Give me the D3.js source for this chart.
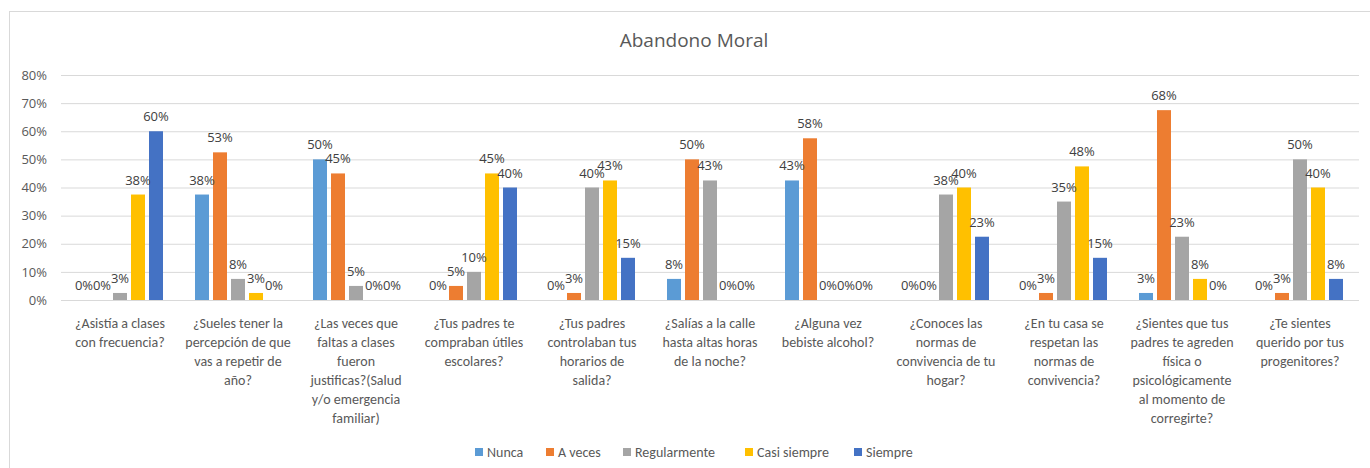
<!DOCTYPE html>
<html>
<head>
<meta charset="utf-8">
<script src="https://cdn.jsdelivr.net/npm/d3@7.9.0/dist/d3.min.js"></script>
<style>
  body { margin: 0; background: #fff; }
  svg { display: block; }
  .narrow { font-family: Carlito, 'Liberation Sans Narrow', 'Open Sans', sans-serif; }
  .seg { font-family: 'Open Sans', 'Noto Sans', sans-serif; }
</style>
</head>
<body>
<svg id="chart" width="1370" height="468"></svg>
<script>
// categories (line breaks as in the original chart)
const categories = [
  "¿Asistía a clases\ncon frecuencia?",
  "¿Sueles tener la\npercepción de que\nvas a repetir de\naño?",
  "¿Las veces que\nfaltas a clases\nfueron\njustificas?(Salud\ny/o emergencia\nfamiliar)",
  "¿Tus padres te\ncompraban útiles\nescolares?",
  "¿Tus padres\ncontrolaban tus\nhorarios de\nsalida?",
  "¿Salías a la calle\nhasta altas horas\nde la noche?",
  "¿Alguna vez\nbebiste alcohol?",
  "¿Conoces las\nnormas de\nconvivencia de tu\nhogar?",
  "¿En tu casa se\nrespetan las\nnormas de\nconvivencia?",
  "¿Sientes que tus\npadres te agreden\nfísica o\npsicológicamente\nal momento de\ncorregirte?",
  "¿Te sientes\nquerido por tus\nprogenitores?"
];

const seriesNames = ["Nunca", "A veces", "Regularmente", "Casi siempre", "Siempre"];
const seriesColors = ["#5B9BD5", "#ED7D31", "#A5A5A5", "#FFC000", "#4472C4"];

// percentages per series (one value per category)
const nunca       = [0, 37.5, 50, 0, 0, 7.5, 42.5, 0, 0, 2.5, 0];
const aVeces      = [0, 52.5, 45, 5, 2.5, 50, 57.5, 0, 2.5, 67.5, 2.5];
const regularmente= [2.5, 7.5, 5, 10, 40, 42.5, 0, 37.5, 35, 22.5, 50];
const casiSiempre = [37.5, 2.5, 0, 45, 42.5, 0, 0, 40, 47.5, 7.5, 40];
const siempre     = [60, 0, 0, 40, 15, 0, 0, 22.5, 15, 0, 7.5];

const yTicks = [0, 10, 20, 30, 40, 50, 60, 70, 80];

const seriesValues = [nunca, aVeces, regularmente, casiSiempre, siempre];

const svg = d3.select('#chart');

// chart frame (only top and left edges are visible in the picture)
svg.append('rect')
  .attr('x', 9.5).attr('y', 11.5)
  .attr('width', 1400).attr('height', 500)
  .attr('fill', 'none')
  .attr('stroke', '#d9d9d9');

const plot = { left: 61, right: 1359, top: 75, bottom: 300 };

const x0 = d3.scaleBand()
  .domain(d3.range(categories.length))
  .range([plot.left, plot.right]);

const x1 = d3.scaleBand()
  .domain(d3.range(seriesNames.length))
  .range([16, 102])
  .paddingInner(4 / 18);

const y = d3.scaleLinear()
  .domain([0, 80])
  .range([plot.bottom, plot.top]);

// title
svg.append('text')
  .attr('class', 'seg')
  .attr('x', 694).attr('y', 47)
  .attr('text-anchor', 'middle')
  .attr('font-size', 19)
  .attr('fill', '#595959')
  .text('Abandono Moral');

// gridlines + y labels
const yAxis = svg.append('g')
  .attr('transform', `translate(${plot.left},0)`)
  .call(d3.axisLeft(y)
    .tickValues(yTicks)
    .tickSize(-(plot.right - plot.left))
    .tickPadding(14)
    .tickFormat(d => d + '%'));

yAxis.select('.domain').remove();
yAxis.selectAll('.tick line').attr('stroke', '#d9d9d9');
yAxis.selectAll('.tick text')
  .attr('class', 'seg')
  .attr('font-size', 13)
  .attr('fill', '#595959');

// bars
const groups = svg.append('g').selectAll('g')
  .data(categories)
  .join('g')
  .attr('transform', (d, i) => `translate(${x0(i)},0)`);

groups.each(function(_, ci) {
  const g = d3.select(this);
  const vals = seriesValues.map((s, si) => ({ si, v: s[ci] }));

  g.selectAll('rect')
    .data(vals)
    .join('rect')
    .attr('x', d => x1(d.si))
    .attr('width', x1.bandwidth())
    .attr('y', d => y(d.v))
    .attr('height', d => y(0) - y(d.v))
    .attr('fill', d => seriesColors[d.si]);

  g.selectAll('text.lbl')
    .data(vals)
    .join('text')
    .attr('class', 'lbl seg')
    .attr('x', d => x1(d.si) + x1.bandwidth() / 2)
    .attr('y', d => y(d.v) - 10)
    .attr('text-anchor', 'middle')
    .attr('font-size', 13)
    .attr('fill', '#404040')
    .text(d => Math.round(d.v) + '%');
});

// category labels
const catLabels = svg.append('g').selectAll('text')
  .data(categories)
  .join('text')
  .attr('class', 'narrow')
  .attr('text-anchor', 'middle')
  .attr('font-size', 14)
  .attr('fill', '#595959')
  .attr('x', (d, i) => x0(i) + x0.bandwidth() / 2)
  .attr('y', 328);

catLabels.selectAll('tspan')
  .data(d => d.split('\n'))
  .join('tspan')
  .attr('x', function() { return d3.select(this.parentNode).attr('x'); })
  .attr('dy', (d, i) => i === 0 ? 0 : 19)
  .text(d => d);

// legend
const legendX = [475, 546, 623, 745, 854];
const legend = svg.append('g').selectAll('g')
  .data(seriesNames)
  .join('g')
  .attr('transform', (d, i) => `translate(${legendX[i]},452)`);

legend.append('rect')
  .attr('x', 0).attr('y', -4)
  .attr('width', 8).attr('height', 8)
  .attr('fill', (d, i) => seriesColors[i]);

legend.append('text')
  .attr('class', 'narrow')
  .attr('x', 12).attr('y', 5)
  .attr('font-size', 14)
  .attr('fill', '#595959')
  .text(d => d);
</script>
</body>
</html>
